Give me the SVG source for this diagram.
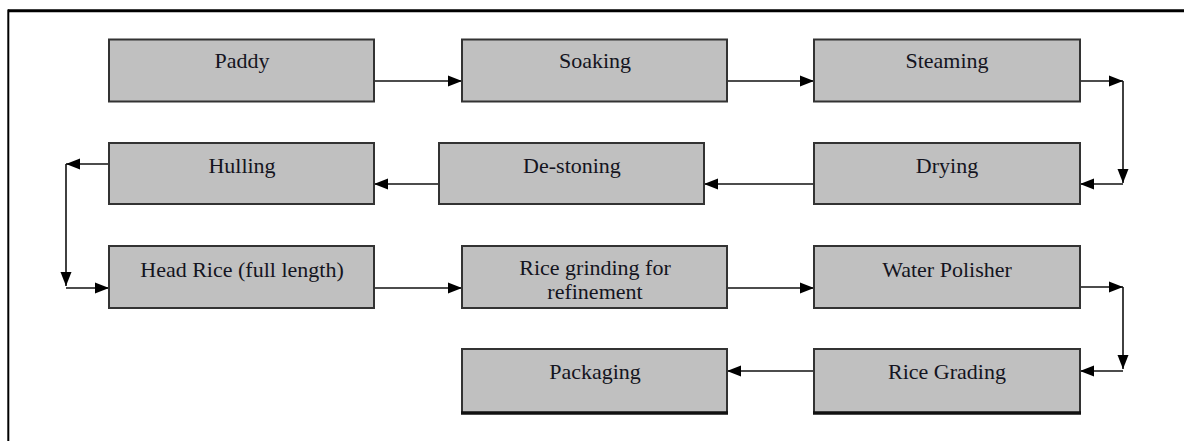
<svg xmlns="http://www.w3.org/2000/svg" width="1184" height="441" viewBox="0 0 1184 441">
<defs>
<style>
.box{fill:#c0c0c0;stroke:#333;stroke-width:2}
.edge{stroke:#111;stroke-width:3.5}
.lbl{font-family:'Liberation Serif','DejaVu Serif','Times New Roman',serif;font-size:22px;fill:#141420;text-anchor:middle}
.con{fill:none;stroke:#111;stroke-width:1.6}
.frame{stroke:#000;fill:none}
</style>
<marker id="ah" markerWidth="14" markerHeight="12" refX="14" refY="6" orient="auto" markerUnits="userSpaceOnUse">
<path d="M0,0.5 L14,6 L0,11.5 Z" fill="#000"/>
</marker>
</defs>
<rect width="1184" height="441" fill="#fff"/>
<g id="frame">
<line class="frame" x1="8" y1="10.8" x2="1184" y2="10.8" stroke-width="3"/>
<line class="frame" x1="8.3" y1="9.5" x2="8.3" y2="441" stroke-width="2"/>
</g>
<g id="connectors">
<line class="con" x1="374" y1="81" x2="462" y2="81" marker-end="url(#ah)"/>
<line class="con" x1="727" y1="81" x2="814" y2="81" marker-end="url(#ah)"/>
<line class="con" x1="1080" y1="81" x2="1123" y2="81" marker-end="url(#ah)"/>
<line class="con" x1="1123" y1="81" x2="1123" y2="183" marker-end="url(#ah)"/>
<line class="con" x1="1123" y1="184" x2="1080" y2="184" marker-end="url(#ah)"/>
<line class="con" x1="814" y1="184" x2="704" y2="184" marker-end="url(#ah)"/>
<line class="con" x1="439" y1="184" x2="374" y2="184" marker-end="url(#ah)"/>
<line class="con" x1="109" y1="164" x2="66" y2="164" marker-end="url(#ah)"/>
<line class="con" x1="66" y1="164" x2="66" y2="286" marker-end="url(#ah)"/>
<line class="con" x1="66" y1="288" x2="109" y2="288" marker-end="url(#ah)"/>
<line class="con" x1="374" y1="288" x2="462" y2="288" marker-end="url(#ah)"/>
<line class="con" x1="727" y1="288" x2="814" y2="288" marker-end="url(#ah)"/>
<line class="con" x1="1080" y1="287" x2="1123" y2="287" marker-end="url(#ah)"/>
<line class="con" x1="1123" y1="287" x2="1123" y2="369" marker-end="url(#ah)"/>
<line class="con" x1="1123" y1="371" x2="1080" y2="371" marker-end="url(#ah)"/>
<line class="con" x1="814" y1="371" x2="727" y2="371" marker-end="url(#ah)"/>
</g>
<g id="paddy"><rect class="box" x="109" y="39.5" width="265" height="62"/><text class="lbl" x="242" y="68">Paddy</text></g>
<g id="soaking"><rect class="box" x="462" y="39.5" width="265" height="62"/><text class="lbl" x="595" y="68">Soaking</text></g>
<g id="steaming"><rect class="box" x="814" y="39.5" width="266" height="62"/><text class="lbl" x="947" y="68">Steaming</text></g>
<g id="hulling"><rect class="box" x="109" y="143" width="265" height="61"/><text class="lbl" x="242" y="173">Hulling</text></g>
<g id="destoning"><rect class="box" x="439" y="143" width="265" height="61"/><text class="lbl" x="572" y="173">De-stoning</text></g>
<g id="drying"><rect class="box" x="814" y="143" width="266" height="61"/><text class="lbl" x="947" y="173">Drying</text></g>
<g id="headrice"><rect class="box" x="109" y="246" width="265" height="62"/><text class="lbl" x="242" y="277">Head Rice (full length)</text></g>
<g id="grinding"><rect class="box" x="462" y="246" width="265" height="62"/><text class="lbl" x="595" y="275">Rice grinding for</text><text class="lbl" x="595" y="299">refinement</text></g>
<g id="polisher"><rect class="box" x="814" y="246" width="266" height="62"/><text class="lbl" x="947" y="277">Water Polisher</text></g>
<g id="packaging"><rect class="box" x="462" y="349" width="265" height="64"/><line class="edge" x1="461" y1="413" x2="728" y2="413"/><text class="lbl" x="595" y="379">Packaging</text></g>
<g id="grading"><rect class="box" x="814" y="349" width="266" height="64"/><line class="edge" x1="813" y1="413" x2="1081" y2="413"/><text class="lbl" x="947" y="379">Rice Grading</text></g>
</svg>
